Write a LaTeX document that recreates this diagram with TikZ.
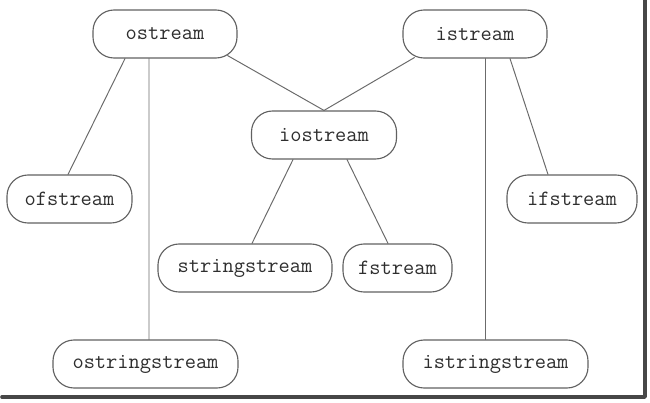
\documentclass[tikz,border=0pt]{standalone}
\usetikzlibrary{calc}

\tikzset{
  cls/.style={draw=black!62, line width=0.8pt, rounded corners=15pt,
    minimum height=1.2cm, inner sep=0pt, text=black!82,
    font=\fontsize{15.5}{18}\selectfont\ttfamily},
  link/.style={draw=black!58, line width=0.7pt}
}

\begin{document}
\begin{tikzpicture}[x=0.025cm,y=-0.025cm,line cap=round,line join=round]
  \useasboundingbox (0,0) rectangle (650,402);
  % frame shadow
  \draw[black!72, line width=2.6pt] (645,0) -- (645,397) -- (2,397);
  % stream classes
  \node[cls, minimum width=3.6cm]   (ostream)       at (165,34)    {ostream};
  \node[cls, minimum width=3.6cm]   (istream)       at (475,34)    {istream};
  \node[cls, minimum width=3.625cm] (iostream)      at (324,135)   {iostream};
  \node[cls, minimum width=3.125cm] (ofstream)      at (69.5,199)  {ofstream};
  \node[cls, minimum width=3.25cm]  (ifstream)      at (572,199)   {ifstream};
  \node[cls, minimum width=4.35cm]  (stringstream)  at (245,268)   {stringstream};
  \node[cls, minimum width=2.725cm] (fstream)       at (397.5,268) {fstream};
  \node[cls, minimum width=4.625cm] (ostringstream) at (145.5,364) {ostringstream};
  \node[cls, minimum width=4.625cm] (istringstream) at (495.5,364) {istringstream};
  % inheritance links
  \draw[link] ($(ostream.south)+(-40,0)$) -- ($(ofstream.north)+(-1.5,0)$);
  \draw[link] ($(ostream.south)+(-16,0)$) -- ($(ostringstream.north)+(3.5,0)$);
  \draw[link] ($(ostream.south east)+(-10,-3)$) -- (iostream.north);
  \draw[link] ($(istream.south west)+(12,-1)$) -- (iostream.north);
  \draw[link] ($(istream.south)+(10,0)$) -- ($(istringstream.north)+(-10.5,0)$);
  \draw[link] ($(istream.south)+(35,0)$) -- ($(ifstream.north)+(-24,0)$);
  \draw[link] ($(iostream.south)+(-31,0)$) -- ($(stringstream.north)+(7,0)$);
  \draw[link] ($(iostream.south)+(23,0)$) -- ($(fstream.north)+(-9.5,0)$);
\end{tikzpicture}
\end{document}
